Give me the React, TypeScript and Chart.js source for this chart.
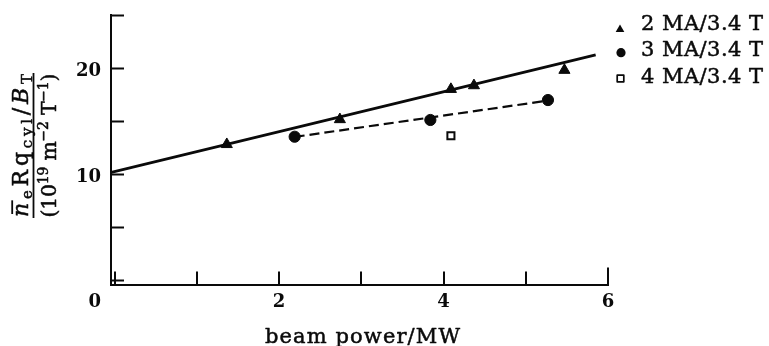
import React, { useEffect, useRef } from 'react';
import { Chart, registerables } from 'chart.js';

Chart.register(...registerables);

// ---- data ----
const triangleX = [1.365, 2.74, 4.09, 4.37, 5.47];
const triangleY = [12.75, 15.1, 17.95, 18.3, 19.75];
const circleX = [2.19, 3.84, 5.27];
const circleY = [13.47, 15.05, 16.93];
const squareX = [4.09];
const squareY = [13.57];
const solidFitX = [-0.04, 5.85];
const solidFitY = [10.1, 21.2];
const dashedFitX = [2.19, 5.27];
const dashedFitY = [13.45, 16.88];

const xTickValues = [0, 1, 2, 3, 4, 5, 6];
const xTickLabels = ['', '', '2', '', '4', '', '6'];
const yTickValues = [0, 5, 10, 15, 20, 25];
const yTickLabels = ['', '', '10', '', '20', ''];
const originLabel = '0';
const legendLabels = ['2 MA/3.4 T', '3 MA/3.4 T', '4 MA/3.4 T'];
const xTitle = 'beam power/MW';

const SERIF = '"DejaVu Serif", "Liberation Serif", serif';
const INK = '#0a0a0a';

type Run = { t: string; size: number; italic?: boolean; dv: number; macron?: boolean };

const numeratorRuns: Run[] = [
  { t: 'n', size: 22, italic: true, dv: 0, macron: true },
  { t: 'e', size: 15, dv: 4 },
  { t: 'R', size: 22, dv: 0 },
  { t: 'q', size: 22, dv: 0 },
  { t: 'cyl', size: 15, dv: 4 },
  { t: '/', size: 22, dv: 0 },
  { t: 'B', size: 22, italic: true, dv: 0 },
  { t: 'T', size: 15, dv: 4 },
];
const denominatorRuns: Run[] = [
  { t: '(10', size: 20.5, dv: 0 },
  { t: '19', size: 14, dv: -7.5 },
  { t: ' m', size: 20.5, dv: 0 },
  { t: '\u22122', size: 14, dv: -7.5 },
  { t: ' T', size: 20.5, dv: 0 },
  { t: '\u22121', size: 14, dv: -7.5 },
  { t: ')', size: 20.5, dv: 0 },
];

function fontOf(r: Run) {
  return `${r.italic ? 'italic ' : ''}${r.size}px ${SERIF}`;
}

function naturalWidth(ctx: CanvasRenderingContext2D, text: string) {
  let w = 0;
  for (const ch of Array.from(text)) w += ctx.measureText(ch).width;
  return w;
}

// fill plus a hairline stroke, to get the heavy look of the printed figure
function inkText(ctx: CanvasRenderingContext2D, ch: string, x: number, y: number) {
  ctx.fillText(ch, x, y);
  ctx.strokeText(ch, x, y);
}

function spacedText(ctx: CanvasRenderingContext2D, text: string, x: number, y: number, sp: number) {
  let cx = x;
  for (const ch of Array.from(text)) {
    inkText(ctx, ch, cx, y);
    cx += ctx.measureText(ch).width + sp;
  }
  return cx;
}

// draw text starting at x, stretched (by letter spacing) to a target width
function fitText(ctx: CanvasRenderingContext2D, text: string, x: number, y: number, target: number) {
  const n = Array.from(text).length;
  const sp = (target - naturalWidth(ctx, text)) / Math.max(1, n - 1);
  spacedText(ctx, text, x, y, sp);
}

function drawRuns(ctx: CanvasRenderingContext2D, runs: Run[], baseV: number, target: number) {
  let natural = 0;
  let count = 0;
  runs.forEach((r) => {
    ctx.font = fontOf(r);
    natural += naturalWidth(ctx, r.t);
    count += Array.from(r.t).length;
  });
  const sp = (target - natural) / Math.max(1, count - 1);
  let u = -target / 2;
  for (const r of runs) {
    ctx.font = fontOf(r);
    const start = u;
    u = spacedText(ctx, r.t, u, baseV + r.dv, sp);
    if (r.macron) {
      const w = ctx.measureText(r.t).width;
      ctx.save();
      ctx.beginPath();
      ctx.lineWidth = 1.8;
      ctx.moveTo(start + 3, baseV - 16);
      ctx.lineTo(start + w + 2.5, baseV - 16);
      ctx.stroke();
      ctx.restore();
    }
  }
}

const decorPlugin = {
  id: 'decor',
  afterDraw(chart: any) {
    const ctx: CanvasRenderingContext2D = chart.ctx;
    const xs = chart.scales.x;
    const ys = chart.scales.y;
    const area = chart.chartArea;
    ctx.save();
    ctx.strokeStyle = INK;
    ctx.fillStyle = INK;

    // inward tick marks
    ctx.lineWidth = 2;
    yTickValues.forEach((v) => {
      const py = Math.round(ys.getPixelForValue(v)) + 0.5;
      ctx.beginPath();
      ctx.moveTo(area.left, py);
      ctx.lineTo(area.left + 13, py);
      ctx.stroke();
    });
    xTickValues.forEach((v, i) => {
      const px = Math.round(xs.getPixelForValue(v));
      const len = i === xTickValues.length - 1 ? 17 : 13;
      ctx.beginPath();
      ctx.moveTo(px, area.bottom);
      ctx.lineTo(px, area.bottom - len);
      ctx.stroke();
    });

    ctx.lineWidth = 0.5;
    ctx.lineJoin = 'round';

    // tick labels
    ctx.font = `bold 18px ${SERIF}`;
    ctx.textBaseline = 'alphabetic';
    ctx.textAlign = 'center';
    xTickValues.forEach((v, i) => {
      if (!xTickLabels[i]) return;
      ctx.fillText(xTickLabels[i], xs.getPixelForValue(v), 306.5);
    });
    ctx.textAlign = 'right';
    yTickValues.forEach((v, i) => {
      if (!yTickLabels[i]) return;
      ctx.fillText(yTickLabels[i], area.left - 10, ys.getPixelForValue(v) + 8);
    });
    ctx.fillText(originLabel, area.left - 10, 306.5);

    // x title
    ctx.textAlign = 'left';
    ctx.font = `21px ${SERIF}`;
    fitText(ctx, xTitle, 265, 342.5, 195);

    // y title (fraction, rotated)
    ctx.save();
    ctx.translate(33.5, 145.5);
    ctx.rotate(-Math.PI / 2);
    ctx.textBaseline = 'alphabetic';
    drawRuns(ctx, numeratorRuns, -5.3, 143);
    drawRuns(ctx, denominatorRuns, 22, 144);
    ctx.beginPath();
    ctx.lineWidth = 1.8;
    ctx.moveTo(-72.5, 0);
    ctx.lineTo(72.5, 0);
    ctx.stroke();
    ctx.restore();

    // legend
    const mx = 620;
    const textX = 641;
    const baselines = [29.5, 56, 82.5];
    const markerY = [29.5, 52.7, 78.5];
    ctx.font = `21px ${SERIF}`;
    ctx.textBaseline = 'alphabetic';
    ctx.lineWidth = 0.5;
    legendLabels.forEach((lab, i) => {
      fitText(ctx, lab, textX, baselines[i], 122);
    });
    // triangle
    const r = 5;
    ctx.beginPath();
    ctx.moveTo(mx, markerY[0] - r);
    ctx.lineTo(mx + r * 0.866, markerY[0] + r / 2);
    ctx.lineTo(mx - r * 0.866, markerY[0] + r / 2);
    ctx.closePath();
    ctx.fill();
    // circle
    ctx.beginPath();
    ctx.arc(mx + 1, markerY[1], 4.6, 0, Math.PI * 2);
    ctx.fill();
    // square
    ctx.lineWidth = 1.7;
    ctx.strokeRect(mx - 2.8, markerY[2] - 3.3, 6.6, 6.6);

    ctx.restore();
  },
};

const toPts = (xs: number[], ys: number[]) => xs.map((x, i) => ({ x, y: ys[i] }));

export default function App() {
  const ref = useRef<HTMLCanvasElement | null>(null);
  useEffect(() => {
    if (!ref.current) return;
    const chart = new Chart(ref.current, {
      type: 'scatter',
      data: {
        datasets: [
          {
            label: '2 MA/3.4 T',
            data: toPts(triangleX, triangleY),
            pointStyle: 'triangle',
            pointRadius: 6.4,
            backgroundColor: INK,
            borderColor: INK,
            borderWidth: 1,
            showLine: false,
          },
          {
            label: '3 MA/3.4 T',
            data: toPts(circleX, circleY),
            pointStyle: 'circle',
            pointRadius: 5.6,
            backgroundColor: INK,
            borderColor: INK,
            borderWidth: 1,
            showLine: false,
          },
          {
            label: '4 MA/3.4 T',
            data: toPts(squareX, squareY),
            pointStyle: 'rect',
            pointRadius: 5,
            backgroundColor: '#fff',
            borderColor: INK,
            borderWidth: 2,
            showLine: false,
          },
          {
            label: 'fit 2 MA',
            data: toPts(solidFitX, solidFitY),
            showLine: true,
            pointRadius: 0,
            borderColor: INK,
            borderWidth: 2.8,
          },
          {
            label: 'fit 3 MA',
            data: toPts(dashedFitX, dashedFitY),
            showLine: true,
            pointRadius: 0,
            borderColor: INK,
            borderWidth: 2.2,
            borderDash: [10, 5],
          },
        ],
      },
      options: {
        animation: false,
        responsive: false,
        devicePixelRatio: 1,
        layout: { padding: { left: 111, right: 161, top: 14.5, bottom: 61.5 } },
        plugins: { legend: { display: false }, tooltip: { enabled: false } },
        scales: {
          x: {
            type: 'linear',
            min: -0.043,
            max: 6,
            ticks: { display: false },
            grid: { drawOnChartArea: false, drawTicks: false },
            border: { display: true, color: INK, width: 2 },
          },
          y: {
            type: 'linear',
            min: -0.47,
            max: 25,
            ticks: { display: false },
            grid: { drawOnChartArea: false, drawTicks: false },
            border: { display: true, color: INK, width: 2 },
          },
        },
      },
      plugins: [decorPlugin],
    });
    return () => chart.destroy();
  }, []);
  return (
    <div style={{ position: 'absolute', left: 0, top: 0, width: 769, height: 346, background: '#fff' }}>
      <canvas ref={ref} width={769} height={346} style={{ display: 'block' }} />
    </div>
  );
}
